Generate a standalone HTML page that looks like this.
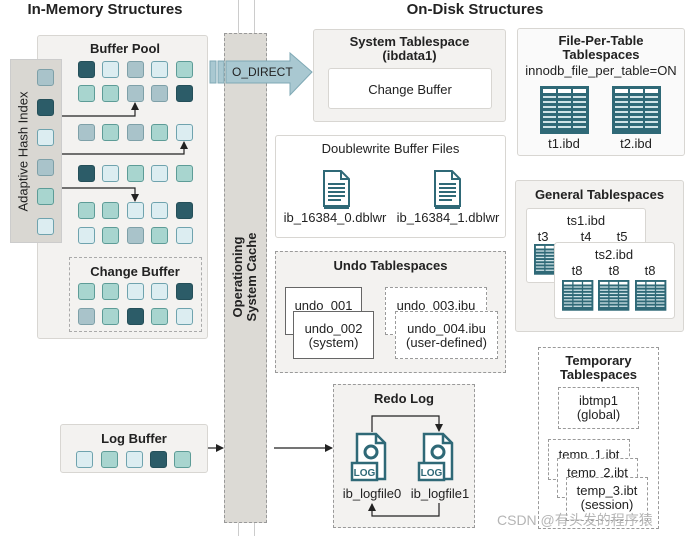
<!DOCTYPE html>
<html><head><meta charset="utf-8">
<style>
*{margin:0;padding:0;box-sizing:border-box}
body{width:691px;height:536px;background:#fff;position:relative;overflow:hidden;font-family:"Liberation Sans","Noto Sans CJK SC",sans-serif;color:#222}
.a{position:absolute}
.box{position:absolute;background:#f3f2f0;border:1px solid #d8d6d2;border-radius:3px}
.wbox{position:absolute;background:#fff;border:1px solid #d8d6d2;border-radius:3px}
.dash{position:absolute;border:1.3px dashed #9a9a9a}
.t{position:absolute;text-align:center;font-size:13px;line-height:15px}
.b{font-weight:bold}
.sq{position:absolute;width:17px;height:17px;border-radius:3px;border:1px solid}
.D{background:#2c5c68;border-color:#244f59}
.L{background:#dcedf1;border-color:#6fa3ae}
.T{background:#a8d5cf;border-color:#5d9c97}
.G{background:#a9c3ca;border-color:#7ea0a8}
</style></head><body>

<div class="t b" style="left:0;top:2px;width:210px;font-size:15px">In-Memory Structures</div>
<div class="t b" style="left:390px;top:2px;width:170px;font-size:15px">On-Disk Structures</div>

<div class="a" style="left:238px;top:0;width:1px;height:536px;background:#ccc"></div>
<div class="a" style="left:254px;top:0;width:1px;height:536px;background:#ccc"></div>

<div class="box" style="left:37px;top:35px;width:171px;height:304px"></div>
<div class="t b" style="left:70px;top:41px;width:110px">Buffer Pool</div>
<div class="box" style="left:10px;top:59px;width:52px;height:184px;background:#d9d7d2;border-color:#ccc;border-radius:0"></div>
<div class="t" style="left:-67px;top:144px;width:180px;transform:rotate(-90deg);font-size:13px">Adaptive Hash Index</div>
<div class="dash" style="left:69px;top:257px;width:133px;height:75px;border-color:#aaa"></div>
<div class="t b" style="left:70px;top:264px;width:130px">Change Buffer</div>

<div class="a" style="left:224px;top:33px;width:43px;height:490px;background:#dcdad5;border:1.3px dashed #999"></div>
<div class="t b" style="left:185px;top:263px;width:120px;transform:rotate(-90deg);font-size:13px;line-height:14px">Operationing<br>System Cache</div>

<div class="box" style="left:60px;top:424px;width:148px;height:49px"></div>
<div class="t b" style="left:70px;top:431px;width:128px">Log Buffer</div>

<div class="box" style="left:313px;top:29px;width:193px;height:93px"></div>
<div class="t b" style="left:313px;top:35px;width:193px;line-height:14px">System Tablespace<br>(ibdata1)</div>
<div class="wbox" style="left:328px;top:68px;width:164px;height:41px"></div>
<div class="t" style="left:328px;top:82px;width:164px">Change Buffer</div>

<div class="wbox" style="left:517px;top:28px;width:168px;height:128px;background:#fafafa"></div>
<div class="t b" style="left:517px;top:34px;width:168px;line-height:14px">File-Per-Table<br>Tablespaces</div>
<div class="t" style="left:517px;top:63px;width:168px">innodb_file_per_table=ON</div>
<div class="t" style="left:534px;top:136px;width:60px">t1.ibd</div>
<div class="t" style="left:606px;top:136px;width:60px">t2.ibd</div>

<div class="wbox" style="left:275px;top:135px;width:231px;height:103px"></div>
<div class="t" style="left:275px;top:141px;width:231px">Doublewrite Buffer Files</div>
<div class="t" style="left:280px;top:210px;width:110px">ib_16384_0.dblwr</div>
<div class="t" style="left:392px;top:210px;width:112px">ib_16384_1.dblwr</div>

<div class="dash" style="left:275px;top:251px;width:231px;height:122px;background:#f3f2f0"></div>
<div class="t b" style="left:275px;top:258px;width:231px">Undo Tablespaces</div>
<div class="a" style="left:285px;top:287px;width:77px;height:48px;background:#fff;border:1px solid #666"></div>
<div class="t" style="left:285px;top:298px;width:77px">undo_001</div>
<div class="a" style="left:293px;top:311px;width:81px;height:48px;background:#fff;border:1px solid #666"></div>
<div class="t" style="left:293px;top:322px;width:81px;line-height:14px">undo_002<br>(system)</div>
<div class="dash" style="left:385px;top:287px;width:102px;height:48px;background:#fff"></div>
<div class="t" style="left:385px;top:298px;width:102px">undo_003.ibu</div>
<div class="dash" style="left:395px;top:311px;width:103px;height:48px;background:#fff"></div>
<div class="t" style="left:395px;top:322px;width:103px;line-height:14px">undo_004.ibu<br>(user-defined)</div>

<div class="box" style="left:515px;top:180px;width:169px;height:152px"></div>
<div class="t b" style="left:515px;top:187px;width:169px">General Tablespaces</div>
<div class="wbox" style="left:526px;top:208px;width:120px;height:75px"></div>
<div class="t" style="left:526px;top:213px;width:120px">ts1.ibd</div>
<div class="t" style="left:533px;top:229px;width:20px">t3</div>
<div class="t" style="left:576px;top:229px;width:20px">t4</div>
<div class="t" style="left:612px;top:229px;width:20px">t5</div>

<div class="dash" style="left:538px;top:347px;width:121px;height:182px"></div>
<div class="t b" style="left:538px;top:354px;width:121px;line-height:14px">Temporary<br>Tablespaces</div>
<div class="dash" style="left:558px;top:387px;width:81px;height:42px"></div>
<div class="t" style="left:558px;top:394px;width:81px;line-height:14px">ibtmp1<br>(global)</div>
<div class="dash" style="left:548px;top:439px;width:82px;height:41px;background:#fff"></div>
<div class="t" style="left:548px;top:447px;width:82px">temp_1.ibt</div>
<div class="dash" style="left:557px;top:458px;width:81px;height:40px;background:#fff"></div>
<div class="t" style="left:557px;top:465px;width:81px">temp_2.ibt</div>
<div class="dash" style="left:566px;top:477px;width:82px;height:44px;background:#fff"></div>
<div class="t" style="left:566px;top:484px;width:82px;line-height:14px">temp_3.ibt<br>(session)</div>

<div class="dash" style="left:333px;top:384px;width:142px;height:144px;background:#f3f2f0"></div>
<div class="t b" style="left:333px;top:391px;width:142px">Redo Log</div>
<div class="t" style="left:337px;top:486px;width:70px">ib_logfile0</div>
<div class="t" style="left:405px;top:486px;width:70px">ib_logfile1</div>

<div class="a" style="left:497px;top:510px;font-size:14px;color:#b5b5b5">CSDN @有头发的程序猿</div>

<svg class="a" style="left:0;top:0" width="691" height="536" viewBox="0 0 691 536">
<defs>
<marker id="ar" markerWidth="8" markerHeight="8" refX="7" refY="4" orient="auto" markerUnits="userSpaceOnUse"><path d="M0,0 L8,4 L0,8 z" fill="#222"/></marker>
<g id="tbl">
<rect x="0" y="0" width="49" height="48" fill="#2f6977"/>
<rect x="3" y="3" width="13" height="4" fill="#fff"/><rect x="18" y="3" width="13" height="4" fill="#fff"/><rect x="33" y="3" width="13" height="4" fill="#fff"/>
<g fill="#cfe3e7">
<rect x="3" y="10" width="13" height="2"/><rect x="3" y="15" width="13" height="2"/><rect x="3" y="20" width="13" height="2"/><rect x="3" y="25" width="13" height="2"/><rect x="3" y="30" width="13" height="2"/><rect x="3" y="35" width="13" height="2"/><rect x="3" y="40" width="13" height="2"/>
<rect x="18" y="10" width="13" height="2"/><rect x="18" y="15" width="13" height="2"/><rect x="18" y="20" width="13" height="2"/><rect x="18" y="25" width="13" height="2"/><rect x="18" y="30" width="13" height="2"/><rect x="18" y="35" width="13" height="2"/><rect x="18" y="40" width="13" height="2"/>
<rect x="33" y="10" width="13" height="2"/><rect x="33" y="15" width="13" height="2"/><rect x="33" y="20" width="13" height="2"/><rect x="33" y="25" width="13" height="2"/><rect x="33" y="30" width="13" height="2"/><rect x="33" y="35" width="13" height="2"/><rect x="33" y="40" width="13" height="2"/>
</g></g>
<g id="doc">
<path d="M1,1 H18 L26,9 V36 H1 Z" fill="#fff" stroke="#2f6977" stroke-width="2"/>
<path d="M18,1 V9 H26" fill="none" stroke="#2f6977" stroke-width="2"/>
<g stroke="#2f6977" stroke-width="2"><line x1="5" y1="14" x2="22" y2="14"/><line x1="5" y1="18" x2="22" y2="18"/><line x1="5" y1="22" x2="22" y2="22"/><line x1="5" y1="26" x2="22" y2="26"/><line x1="5" y1="30" x2="18" y2="30"/></g>
<line x1="1" y1="38" x2="26" y2="38" stroke="#2f6977" stroke-width="2"/>
</g>
<g id="log">
<path d="M5,1 H24 L33,10 V46 H5 Z" fill="#fff" stroke="#2f6977" stroke-width="2.5"/>
<path d="M24,1 V10 H33" fill="none" stroke="#2f6977" stroke-width="2.5"/>
<circle cx="19" cy="19" r="6" fill="none" stroke="#2f6977" stroke-width="3"/>
<rect x="0" y="30" width="25" height="17" fill="#fff" stroke="#2f6977" stroke-width="2.5"/>
<text x="12.5" y="43" font-size="10" font-weight="bold" fill="#2f6977" text-anchor="middle" font-family="Liberation Sans">LOG</text>
</g>
</defs>

<g fill="#a9c8d1" stroke="#7fa9b5" stroke-width="1">
<rect x="210" y="61" width="6" height="22"/><rect x="218" y="61" width="6" height="22"/>
<path d="M226,61 H290 V53 L312,72 L290,95 V83 H226 Z"/>
</g>
<text x="232" y="76" font-size="12" fill="#222" font-family="Liberation Sans">O_DIRECT</text>

<g stroke="#222" stroke-width="1.2" fill="none">
<path d="M62,116 H135 V103" marker-end="url(#ar)"/>
<path d="M62,154 H184 V142" marker-end="url(#ar)"/>
<path d="M62,188 H135 V201" marker-end="url(#ar)"/>
<path d="M208,448 H223" marker-end="url(#ar)"/>
<path d="M274,448 H332" marker-end="url(#ar)"/>
<path d="M372,432 V416 H439 V431" marker-end="url(#ar)"/>
<path d="M439,503 V516 H372 V504" marker-end="url(#ar)"/>
</g>

<use href="#tbl" x="540" y="86"/>
<use href="#tbl" x="612" y="86"/>
<g transform="translate(534,244) scale(0.64)"><use href="#tbl"/></g>
<rect x="554.5" y="242.5" width="120" height="76" rx="3" fill="#fff" stroke="#d8d6d2"/>
<text x="614" y="259" font-size="13" text-anchor="middle" font-family="Liberation Sans" fill="#222">ts2.ibd</text>
<text x="577" y="275" font-size="13" text-anchor="middle" font-family="Liberation Sans" fill="#222">t8</text>
<text x="614" y="275" font-size="13" text-anchor="middle" font-family="Liberation Sans" fill="#222">t8</text>
<text x="650" y="275" font-size="13" text-anchor="middle" font-family="Liberation Sans" fill="#222">t8</text>
<g transform="translate(562,280) scale(0.64)"><use href="#tbl"/></g>
<g transform="translate(598,280) scale(0.64)"><use href="#tbl"/></g>
<g transform="translate(635,280) scale(0.64)"><use href="#tbl"/></g>

<use href="#doc" x="323" y="170"/>
<use href="#doc" x="434" y="170"/>
<use href="#log" x="352" y="433"/>
<use href="#log" x="419" y="433"/>
</svg>

<div class="sq D" style="left:78px;top:61px"></div><div class="sq L" style="left:102px;top:61px"></div><div class="sq G" style="left:127px;top:61px"></div><div class="sq L" style="left:151px;top:61px"></div><div class="sq T" style="left:176px;top:61px"></div>
<div class="sq T" style="left:78px;top:85px"></div><div class="sq T" style="left:102px;top:85px"></div><div class="sq G" style="left:127px;top:85px"></div><div class="sq G" style="left:151px;top:85px"></div><div class="sq D" style="left:176px;top:85px"></div>
<div class="sq G" style="left:78px;top:124px"></div><div class="sq T" style="left:102px;top:124px"></div><div class="sq G" style="left:127px;top:124px"></div><div class="sq T" style="left:151px;top:124px"></div><div class="sq L" style="left:176px;top:124px"></div>
<div class="sq D" style="left:78px;top:165px"></div><div class="sq L" style="left:102px;top:165px"></div><div class="sq T" style="left:127px;top:165px"></div><div class="sq L" style="left:151px;top:165px"></div><div class="sq T" style="left:176px;top:165px"></div>
<div class="sq T" style="left:78px;top:202px"></div><div class="sq T" style="left:102px;top:202px"></div><div class="sq L" style="left:127px;top:202px"></div><div class="sq L" style="left:151px;top:202px"></div><div class="sq D" style="left:176px;top:202px"></div>
<div class="sq L" style="left:78px;top:227px"></div><div class="sq T" style="left:102px;top:227px"></div><div class="sq G" style="left:127px;top:227px"></div><div class="sq T" style="left:151px;top:227px"></div><div class="sq L" style="left:176px;top:227px"></div>
<div class="sq T" style="left:78px;top:283px"></div><div class="sq T" style="left:102px;top:283px"></div><div class="sq L" style="left:127px;top:283px"></div><div class="sq L" style="left:151px;top:283px"></div><div class="sq D" style="left:176px;top:283px"></div>
<div class="sq G" style="left:78px;top:308px"></div><div class="sq T" style="left:102px;top:308px"></div><div class="sq D" style="left:127px;top:308px"></div><div class="sq T" style="left:151px;top:308px"></div><div class="sq L" style="left:176px;top:308px"></div>
<div class="sq G" style="left:37px;top:69px"></div><div class="sq D" style="left:37px;top:99px"></div><div class="sq L" style="left:37px;top:129px"></div><div class="sq G" style="left:37px;top:159px"></div><div class="sq T" style="left:37px;top:188px"></div><div class="sq L" style="left:37px;top:218px"></div>
<div class="sq L" style="left:76px;top:451px"></div><div class="sq T" style="left:101px;top:451px"></div><div class="sq L" style="left:126px;top:451px"></div><div class="sq D" style="left:150px;top:451px"></div><div class="sq T" style="left:174px;top:451px"></div>

</body></html>
